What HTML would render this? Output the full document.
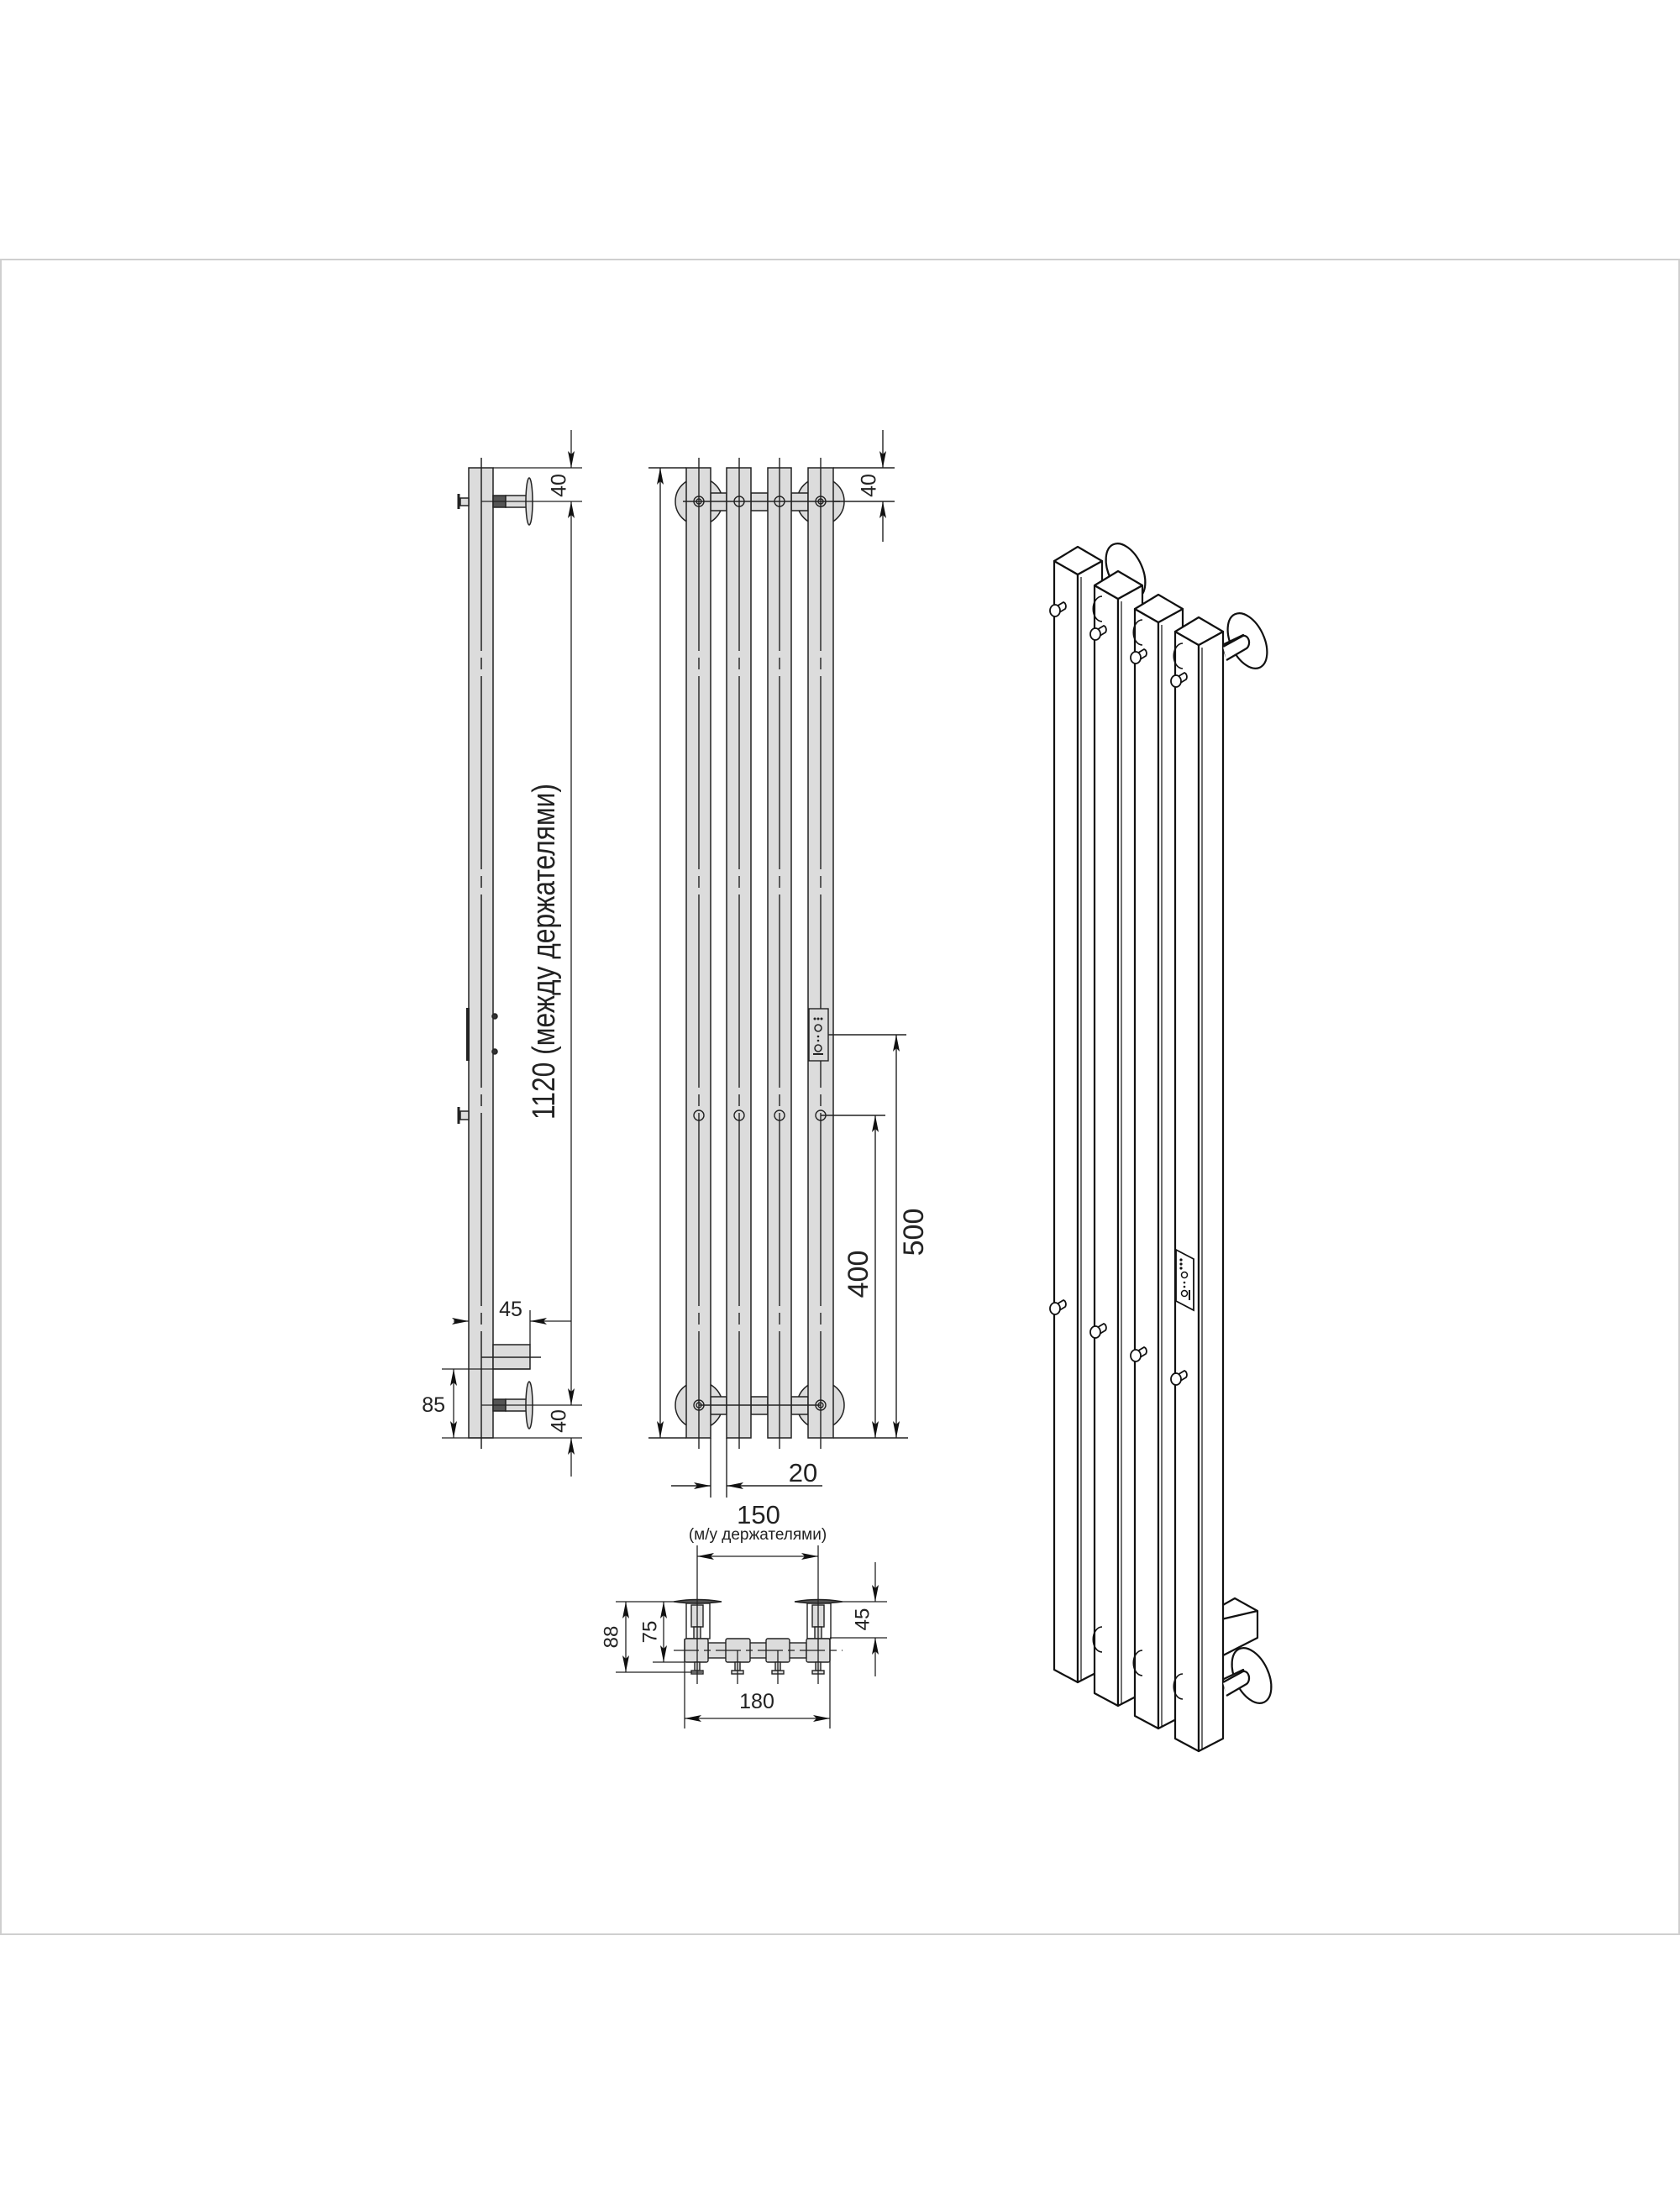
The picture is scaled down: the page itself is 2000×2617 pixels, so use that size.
<!DOCTYPE html>
<html><head><meta charset="utf-8"><style>
html,body{margin:0;padding:0;background:#fff}
svg{display:block}
text{font-family:"Liberation Sans","DejaVu Sans",sans-serif;fill:#222}
</style></head><body>
<svg width="2000" height="2617" viewBox="0 0 2000 2617" xmlns="http://www.w3.org/2000/svg">
<defs>
<marker id="a" markerWidth="20" markerHeight="8" refX="20" refY="4" orient="auto" markerUnits="userSpaceOnUse"><path d="M0,0 L20,4 L0,8 L4,4 Z" fill="#111"/></marker>
</defs>
<rect x="1" y="309" width="1998" height="1994" fill="none" stroke="#cfcfcf" stroke-width="2"/>

<!-- ============ SIDE VIEW ============ -->
<g stroke="#222" stroke-width="1.5">
<rect x="558" y="557" width="29" height="1155" fill="#dcdcdc"/>
<line x1="573" y1="545" x2="573" y2="1725" stroke-dasharray="230,8,14,8"/>
<rect x="587" y="590" width="15" height="14" fill="#555"/>
<rect x="602" y="590" width="26" height="14" fill="#dcdcdc"/>
<ellipse cx="630" cy="597" rx="4" ry="28" fill="#dcdcdc"/>
<rect x="548" y="593" width="10" height="9" fill="#dcdcdc"/>
<line x1="546" y1="588" x2="546" y2="606" stroke-width="3"/>
<rect x="587" y="1666" width="15" height="14" fill="#555"/>
<rect x="602" y="1666" width="26" height="14" fill="#dcdcdc"/>
<ellipse cx="630" cy="1673" rx="4" ry="28" fill="#dcdcdc"/>
<rect x="587" y="1601" width="44" height="29" fill="#dcdcdc"/>
<line x1="573" y1="1616" x2="644" y2="1616"/>
<line x1="557" y1="1200" x2="557" y2="1263" stroke-width="4"/>
<circle cx="589" cy="1210" r="3" fill="#333"/>
<circle cx="589" cy="1252" r="3" fill="#333"/>
<rect x="548" y="1323" width="10" height="10" fill="#dcdcdc"/>
<line x1="546" y1="1318" x2="546" y2="1338" stroke-width="3"/>
</g>
<g stroke="#222" stroke-width="1.3" fill="none">
<line x1="587" y1="557" x2="693" y2="557"/>
<line x1="573" y1="597" x2="693" y2="597"/>
<line x1="573" y1="1673" x2="693" y2="1673"/>
<line x1="526" y1="1712" x2="693" y2="1712"/>
<line x1="526" y1="1630" x2="631" y2="1630"/>
<line x1="631" y1="1560" x2="631" y2="1601"/>
<line x1="680" y1="512" x2="680" y2="557" marker-end="url(#a)"/>
<line x1="680" y1="1135" x2="680" y2="597" marker-end="url(#a)"/>
<line x1="680" y1="1135" x2="680" y2="1673" marker-end="url(#a)"/>
<line x1="680" y1="1758" x2="680" y2="1712" marker-end="url(#a)"/>
<line x1="540" y1="1573" x2="558" y2="1573" marker-end="url(#a)"/>
<line x1="680" y1="1573" x2="631" y2="1573" marker-end="url(#a)"/>
<line x1="540" y1="1671" x2="540" y2="1630" marker-end="url(#a)"/>
<line x1="540" y1="1671" x2="540" y2="1712" marker-end="url(#a)"/>
</g>
<text x="667" y="578" font-size="25" text-anchor="middle" transform="rotate(-90 667 578)" dominant-baseline="middle">40</text>
<text x="667" y="1692" font-size="25" text-anchor="middle" transform="rotate(-90 667 1692)" dominant-baseline="middle">40</text>
<text x="608" y="1567" font-size="25" text-anchor="middle">45</text>
<text x="530" y="1681" font-size="25" text-anchor="end">85</text>
<text x="660" y="1133" font-size="38" text-anchor="middle" transform="rotate(-90 660 1133)" textLength="400" lengthAdjust="spacingAndGlyphs">1120 (между держателями)</text>

<!-- ============ FRONT VIEW ============ -->
<g stroke="#222" stroke-width="1.5" fill="#dcdcdc">
<circle cx="832" cy="597" r="28"/><circle cx="977" cy="597" r="28"/>
<circle cx="832" cy="1673" r="28"/><circle cx="977" cy="1673" r="28"/>
<rect x="846" y="587" width="19" height="21"/><rect x="894" y="587" width="20" height="21"/><rect x="942" y="587" width="20" height="21"/>
<rect x="846" y="1663" width="19" height="21"/><rect x="894" y="1663" width="20" height="21"/><rect x="942" y="1663" width="20" height="21"/>
<rect x="817" y="557" width="29" height="1155"/>
<rect x="865" y="557" width="29" height="1155"/>
<rect x="914" y="557" width="28" height="1155"/>
<rect x="962" y="557" width="30" height="1155"/>
</g>
<g stroke="#222" stroke-width="1.4" fill="none">
<line x1="832" y1="545" x2="832" y2="1725" stroke-dasharray="230,8,14,8"/>
<line x1="880" y1="545" x2="880" y2="1725" stroke-dasharray="230,8,14,8"/>
<line x1="928" y1="545" x2="928" y2="1725" stroke-dasharray="230,8,14,8"/>
<line x1="977" y1="545" x2="977" y2="1725" stroke-dasharray="230,8,14,8"/>
<line x1="813" y1="597" x2="1000" y2="597"/>
<line x1="832" y1="1673" x2="977" y2="1673"/>
<circle cx="832" cy="597" r="6"/><circle cx="832" cy="597" r="3"/>
<circle cx="880" cy="597" r="6"/><circle cx="928" cy="597" r="6"/>
<circle cx="977" cy="597" r="6"/><circle cx="977" cy="597" r="3"/>
<circle cx="832" cy="1673" r="6"/><circle cx="832" cy="1673" r="3"/>
<circle cx="977" cy="1673" r="6"/><circle cx="977" cy="1673" r="3"/>
<circle cx="832" cy="1328" r="6"/><circle cx="880" cy="1328" r="6"/>
<circle cx="928" cy="1328" r="6"/><circle cx="977" cy="1328" r="6"/>
<rect x="963" y="1201" width="23" height="62" fill="#dcdcdc"/>
<line x1="772" y1="557" x2="817" y2="557"/>
<line x1="992" y1="557" x2="1065" y2="557"/>
<line x1="992" y1="597" x2="1065" y2="597"/>
<line x1="772" y1="1712" x2="817" y2="1712"/>
<line x1="992" y1="1712" x2="1081" y2="1712"/>
<line x1="977" y1="1328" x2="1054" y2="1328"/>
<line x1="986" y1="1232" x2="1079" y2="1232"/>
<line x1="846" y1="1712" x2="846" y2="1783"/>
<line x1="865" y1="1712" x2="865" y2="1783"/>
<line x1="786" y1="1135" x2="786" y2="557" marker-end="url(#a)"/>
<line x1="786" y1="1135" x2="786" y2="1712" marker-end="url(#a)"/>
<line x1="1051" y1="512" x2="1051" y2="557" marker-end="url(#a)"/>
<line x1="1051" y1="645" x2="1051" y2="597" marker-end="url(#a)"/>
<line x1="1042" y1="1520" x2="1042" y2="1328" marker-end="url(#a)"/>
<line x1="1042" y1="1520" x2="1042" y2="1712" marker-end="url(#a)"/>
<line x1="1067" y1="1472" x2="1067" y2="1232" marker-end="url(#a)"/>
<line x1="1067" y1="1472" x2="1067" y2="1712" marker-end="url(#a)"/>
<line x1="799" y1="1769" x2="846" y2="1769" marker-end="url(#a)"/>
<line x1="979" y1="1769" x2="865" y2="1769" marker-end="url(#a)"/>
</g>
<g fill="#222">
<circle cx="970" cy="1213" r="1.5"/><circle cx="974" cy="1213" r="1.5"/><circle cx="978" cy="1213" r="1.5"/>
<circle cx="974" cy="1224" r="4" fill="none" stroke="#222" stroke-width="1.5"/>
<circle cx="974" cy="1234" r="1.3"/><circle cx="974" cy="1239" r="1.3"/>
<circle cx="974" cy="1248" r="4" fill="none" stroke="#222" stroke-width="1.5"/>
<rect x="968" y="1254" width="12" height="2"/>
</g>
<text x="1036" y="578" font-size="25" text-anchor="middle" transform="rotate(-90 1036 578)" dominant-baseline="middle">40</text>
<text x="1024" y="1517" font-size="34" text-anchor="middle" transform="rotate(-90 1024 1517)" dominant-baseline="middle">400</text>
<text x="1090" y="1467" font-size="34" text-anchor="middle" transform="rotate(-90 1090 1467)" dominant-baseline="middle">500</text>
<text x="956" y="1764" font-size="31" text-anchor="middle">20</text>

<!-- ============ BOTTOM VIEW ============ -->
<text x="903" y="1814" font-size="31" text-anchor="middle">150</text>
<text x="902" y="1833" font-size="19" text-anchor="middle">(м/у держателями)</text>
<g stroke="#222" stroke-width="1.4" fill="#dcdcdc">
<rect x="817" y="1909" width="28" height="42" fill="#fff"/>
<rect x="823" y="1911" width="14" height="26"/>
<rect x="826" y="1937" width="8" height="14"/>
<rect x="961" y="1909" width="28" height="42" fill="#fff"/>
<rect x="967" y="1911" width="14" height="26"/>
<rect x="970" y="1937" width="8" height="14"/>
<path d="M802,1907 Q830,1902 859,1907 Q830,1911 802,1907 Z" fill="#555"/>
<path d="M946,1907 Q974,1902 1003,1907 Q974,1911 946,1907 Z" fill="#555"/>
<rect x="843" y="1956" width="117" height="18"/>
<rect x="815" y="1951" width="28" height="28" rx="2"/>
<rect x="864" y="1951" width="29" height="28" rx="2"/>
<rect x="912" y="1951" width="28" height="28" rx="2"/>
<rect x="960" y="1951" width="28" height="28" rx="2"/>
<rect x="827" y="1979" width="6" height="10"/><rect x="823" y="1989" width="14" height="4"/>
<rect x="875" y="1979" width="6" height="10"/><rect x="871" y="1989" width="14" height="4"/>
<rect x="923" y="1979" width="6" height="10"/><rect x="919" y="1989" width="14" height="4"/>
<rect x="971" y="1979" width="6" height="10"/><rect x="967" y="1989" width="14" height="4"/>
</g>
<g stroke="#222" stroke-width="1.3" fill="none">
<line x1="802" y1="1965" x2="1003" y2="1965" stroke-dasharray="30,6,8,6"/>
<line x1="830" y1="1840" x2="830" y2="2005"/>
<line x1="974" y1="1840" x2="974" y2="2005"/>
<line x1="878" y1="1965" x2="878" y2="2005"/>
<line x1="926" y1="1965" x2="926" y2="2005"/>
<line x1="733" y1="1907" x2="802" y2="1907"/>
<line x1="1003" y1="1907" x2="1056" y2="1907"/>
<line x1="988" y1="1950" x2="1056" y2="1950"/>
<line x1="777" y1="1979" x2="815" y2="1979"/>
<line x1="733" y1="1991" x2="836" y2="1991"/>
<line x1="815" y1="1951" x2="815" y2="2058"/>
<line x1="988" y1="1951" x2="988" y2="2058"/>
<line x1="902" y1="1853" x2="830" y2="1853" marker-end="url(#a)"/>
<line x1="902" y1="1853" x2="974" y2="1853" marker-end="url(#a)"/>
<line x1="745" y1="1949" x2="745" y2="1907" marker-end="url(#a)"/>
<line x1="745" y1="1949" x2="745" y2="1991" marker-end="url(#a)"/>
<line x1="790" y1="1943" x2="790" y2="1907" marker-end="url(#a)"/>
<line x1="790" y1="1943" x2="790" y2="1979" marker-end="url(#a)"/>
<line x1="1042" y1="1860" x2="1042" y2="1907" marker-end="url(#a)"/>
<line x1="1042" y1="1996" x2="1042" y2="1950" marker-end="url(#a)"/>
<line x1="901" y1="2046" x2="815" y2="2046" marker-end="url(#a)"/>
<line x1="901" y1="2046" x2="988" y2="2046" marker-end="url(#a)"/>
</g>
<text x="729" y="1949" font-size="24" text-anchor="middle" transform="rotate(-90 729 1949)" dominant-baseline="middle">88</text>
<text x="775" y="1943" font-size="24" text-anchor="middle" transform="rotate(-90 775 1943)" dominant-baseline="middle">75</text>
<text x="1028" y="1928" font-size="24" text-anchor="middle" transform="rotate(-90 1028 1928)" dominant-baseline="middle">45</text>
<text x="901" y="2034" font-size="25" text-anchor="middle">180</text>

<!-- ============ ISO VIEW ============ -->
<g stroke="#111" stroke-width="2.2" fill="#fff" stroke-linejoin="round">
<ellipse cx="1340" cy="680" rx="20" ry="35" transform="rotate(-25 1340 680)"/>
<ellipse cx="1485" cy="763" rx="20" ry="35" transform="rotate(-25 1485 763)"/>
<path d="M1454,1912 L1470,1903 L1497,1918 L1497,1950 L1454,1972 Z"/>
<line x1="1454" y1="1928" x2="1497" y2="1918"/>
<ellipse cx="1490" cy="1995" rx="20" ry="35" transform="rotate(-25 1490 1995)"/>
<path d="M1455,2000 L1480,1988 L1485,2000 L1460,2014 Z"/>
<path d="M1455,768 L1480,756 L1485,768 L1460,782 Z"/>

<path d="M1255,668 L1283,684 L1283,2003 L1255,1988 Z"/>
<path d="M1283,684 L1312,668 L1312,1988 L1283,2003 Z"/>
<path d="M1255,668 L1283,651 L1312,668 L1283,684 Z"/>
<line x1="1287" y1="687" x2="1287" y2="2000" stroke-width="1.2"/>
<path d="M1303,697 L1331,713 L1331,2031 L1303,2016 Z"/>
<path d="M1331,713 L1360,697 L1360,2016 L1331,2031 Z"/>
<path d="M1303,697 L1331,680 L1360,697 L1331,713 Z"/>
<line x1="1335" y1="716" x2="1335" y2="2028" stroke-width="1.2"/>
<path d="M1351,725 L1379,741 L1379,2058 L1351,2043 Z"/>
<path d="M1379,741 L1408,725 L1408,2043 L1379,2058 Z"/>
<path d="M1351,725 L1379,708 L1408,725 L1379,741 Z"/>
<line x1="1383" y1="744" x2="1383" y2="2055" stroke-width="1.2"/>
<path d="M1399,752 L1427,768 L1427,2085 L1399,2070 Z"/>
<path d="M1427,768 L1456,752 L1456,2070 L1427,2085 Z"/>
<path d="M1399,752 L1427,735 L1456,752 L1427,768 Z"/>
<line x1="1431" y1="771" x2="1431" y2="2082" stroke-width="1.2"/>
<path d="M1456,770 L1478,758 A6,8 0 0 1 1484,772 L1460,786"/>
<path d="M1456,2003 L1478,1991 A6,8 0 0 1 1484,2005 L1460,2019"/>
</g>
<g stroke="#111" stroke-width="1.6" fill="none">
<path d="M1312,710 a10,14 0 0 0 0,30"/>
<path d="M1360,738 a10,14 0 0 0 0,30"/>
<path d="M1408,766 a10,14 0 0 0 0,30"/>
<path d="M1312,1937 a10,14 0 0 0 0,30"/>
<path d="M1360,1965 a10,14 0 0 0 0,30"/>
<path d="M1408,1993 a10,14 0 0 0 0,30"/>
</g>
<g stroke="#111" stroke-width="1.8" fill="#fff">
<g transform="translate(1256,727)"><path d="M0,-4 L10,-10 A4,5 0 0 1 12,-2 L2,4 Z"/><ellipse cx="0" cy="0" rx="6" ry="7"/></g>
<g transform="translate(1304,755)"><path d="M0,-4 L10,-10 A4,5 0 0 1 12,-2 L2,4 Z"/><ellipse cx="0" cy="0" rx="6" ry="7"/></g>
<g transform="translate(1352,783)"><path d="M0,-4 L10,-10 A4,5 0 0 1 12,-2 L2,4 Z"/><ellipse cx="0" cy="0" rx="6" ry="7"/></g>
<g transform="translate(1400,811)"><path d="M0,-4 L10,-10 A4,5 0 0 1 12,-2 L2,4 Z"/><ellipse cx="0" cy="0" rx="6" ry="7"/></g>
<g transform="translate(1256,1558)"><path d="M0,-4 L10,-10 A4,5 0 0 1 12,-2 L2,4 Z"/><ellipse cx="0" cy="0" rx="6" ry="7"/></g>
<g transform="translate(1304,1586)"><path d="M0,-4 L10,-10 A4,5 0 0 1 12,-2 L2,4 Z"/><ellipse cx="0" cy="0" rx="6" ry="7"/></g>
<g transform="translate(1352,1614)"><path d="M0,-4 L10,-10 A4,5 0 0 1 12,-2 L2,4 Z"/><ellipse cx="0" cy="0" rx="6" ry="7"/></g>
<g transform="translate(1400,1642)"><path d="M0,-4 L10,-10 A4,5 0 0 1 12,-2 L2,4 Z"/><ellipse cx="0" cy="0" rx="6" ry="7"/></g>
<path d="M1400,1488 L1421,1499 L1421,1560 L1400,1549 Z"/>
</g>
<g fill="#111">
<circle cx="1406" cy="1500" r="1.6"/><circle cx="1406" cy="1505" r="1.6"/><circle cx="1406" cy="1510" r="1.6"/>
<circle cx="1410" cy="1518" r="3.5" fill="none" stroke="#111" stroke-width="1.5"/>
<circle cx="1410" cy="1527" r="1.3"/><circle cx="1410" cy="1532" r="1.3"/>
<circle cx="1410" cy="1540" r="3.5" fill="none" stroke="#111" stroke-width="1.5"/>
<rect x="1415" y="1536" width="2" height="12"/>
</g>
</svg>
</body></html>
